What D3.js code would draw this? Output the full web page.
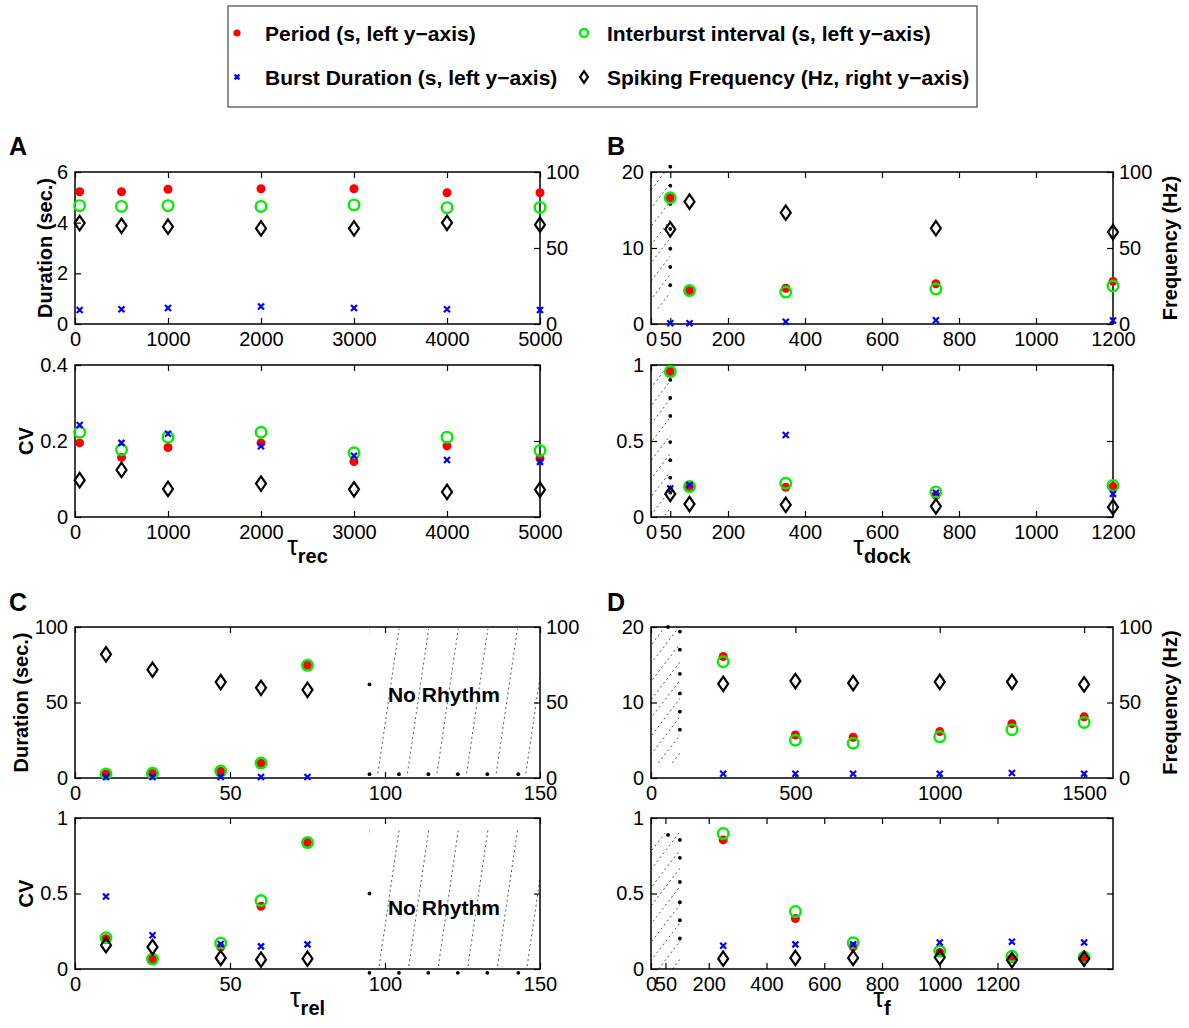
<!DOCTYPE html>
<html><head><meta charset="utf-8">
<script src="https://cdn.jsdelivr.net/npm/d3@7"></script>
<style>body{margin:0;background:#fff} svg{display:block} text{font-family:"Liberation Sans",Arial,sans-serif;fill:#000}</style>
</head><body><svg id="c" width="1189" height="1028"></svg>
<script>
// ---------------- data ----------------
const legendLabels = ["Period (s, left y\u2212axis)", "Interburst interval (s, left y\u2212axis)",
                      "Burst Duration (s, left y\u2212axis)", "Spiking Frequency (Hz, right y\u2212axis)"];
const panelLetters = ["A", "B", "C", "D"];

// Panel A : tau_rec
const aX        = [50, 500, 1000, 2000, 3000, 4000, 5000];
const aPeriod   = [5.22, 5.22, 5.32, 5.34, 5.34, 5.18, 5.18];
const aIBI      = [4.67, 4.64, 4.67, 4.64, 4.70, 4.59, 4.60];
const aBurst    = [0.55, 0.58, 0.63, 0.69, 0.63, 0.58, 0.55];
const aFreq     = [66.4, 64.6, 64.0, 62.9, 62.9, 66.6, 65.3];
const aPeriodCV = [0.195, 0.157, 0.183, 0.195, 0.146, 0.187, 0.154];
const aIBICV    = [0.223, 0.177, 0.210, 0.223, 0.169, 0.210, 0.175];
const aBurstCV  = [0.242, 0.195, 0.219, 0.186, 0.161, 0.150, 0.145];
const aFreqCV   = [0.097, 0.124, 0.074, 0.088, 0.073, 0.066, 0.072];

// Panel B : tau_dock
const bX        = [50, 100, 350, 740, 1200];
const bPeriod   = [16.6, 4.4, 4.7, 5.3, 5.6];
const bIBI      = [16.6, 4.4, 4.2, 4.6, 5.0];
const bBurst    = [0.1, 0.1, 0.3, 0.5, 0.45];
const bFreq     = [62.3, 80.5, 73.2, 63.0, 60.5];
const bPeriodCV = [0.957, 0.200, 0.196, 0.143, 0.200];
const bIBICV    = [0.957, 0.200, 0.222, 0.165, 0.207];
const bBurstCV  = [0.187, 0.210, 0.540, 0.160, 0.152];
const bFreqCV   = [0.152, 0.085, 0.080, 0.070, 0.065];

// Panel C : tau_rel
const cX        = [10, 25, 47, 60, 75];
const cPeriod   = [2.7, 3.1, 4.4, 9.7, 74.6];
const cIBI      = [2.7, 3.1, 4.6, 9.9, 74.6];
const cBurst    = [0.6, 0.6, 0.6, 0.6, 0.6];
const cFreq     = [81.9, 71.7, 63.5, 59.7, 58.4];
const cPeriodCV = [0.200, 0.066, 0.145, 0.415, 0.837];
const cIBICV    = [0.207, 0.066, 0.171, 0.453, 0.837];
const cBurstCV  = [0.480, 0.224, 0.165, 0.150, 0.163];
const cFreqCV   = [0.158, 0.145, 0.073, 0.062, 0.068];

// Panel D : tau_f
const dX        = [250, 500, 700, 1000, 1250, 1500];
const dPeriod   = [16.1, 5.7, 5.4, 6.15, 7.2, 8.1];
const dIBI      = [15.4, 5.0, 4.6, 5.45, 6.4, 7.35];
const dBurst    = [0.57, 0.57, 0.57, 0.57, 0.65, 0.57];
const dFreq     = [62.4, 64.2, 62.9, 63.7, 63.7, 62.0];
const dPeriodCV = [0.855, 0.334, 0.147, 0.110, 0.070, 0.070];
const dIBICV    = [0.897, 0.380, 0.174, 0.119, 0.084, 0.077];
const dBurstCV  = [0.154, 0.163, 0.163, 0.176, 0.180, 0.176];
const dFreqCV   = [0.068, 0.073, 0.073, 0.077, 0.059, 0.068];

// ticks
const aXTicks = [0, 1000, 2000, 3000, 4000, 5000];
const bXTicks = [0, 50, 200, 400, 600, 800, 1000, 1200];
const cXTicks = [0, 50, 100, 150];
const dXTicksTop = [0, 500, 1000, 1500];
const dXTicksBot = [0, 50, 200, 400, 600, 800, 1000, 1200];
const aYTicks = [0, 2, 4, 6];
const aCVTicks = [0, 0.2, 0.4];
const bYTicks = [0, 10, 20];
const cYTicks = [0, 50, 100];
const dYTicks = [0, 10, 20];
const cvTicks = [0, 0.5, 1];
const freqTicks = [0, 50, 100];

// hatch-marker dots (no-rhythm regions)
const bDotX = 50,  bTopDots = [20.7, 18.2, 15.8, 12.5, 9.9, 7.5, 5.1];
const bBotDots = [0.902, 0.783, 0.665, 0.493, 0.374, 0.259, 0.16];
const cDotXs = [95, 104.5, 114, 123.5, 133, 143];
const dDotX = 100, dTopDots = [19.4, 17.0, 13.8, 11.2, 8.8, 6.4];
const dBotDots = [0.855, 0.736, 0.576, 0.442, 0.323, 0.202];

// ---------------- drawing ----------------
const svg = d3.select("#c");
const FONT = "Liberation Sans, Arial, sans-serif";
let clipN = 0;

function drawMarker(g, type, px, py, s = 1) {
  if (type === 0) {
    g.append("circle").attr("cx", px).attr("cy", py).attr("r", 4.5 * s).attr("fill", "#ff0000");
  } else if (type === 1) {
    g.append("circle").attr("cx", px).attr("cy", py).attr("r", 5.3 * s)
      .attr("fill", "none").attr("stroke", "#00ee00").attr("stroke-width", 2.4);
  } else if (type === 2) {
    const a = 3 * s;
    g.append("path").attr("d", `M${px - a},${py - a}L${px + a},${py + a}M${px - a},${py + a}L${px + a},${py - a}`)
      .attr("stroke", "#0000ff").attr("stroke-width", 2.2).attr("fill", "none");
  } else {
    const w = 5 * s, h = 7.2 * s;
    g.append("path").attr("d", `M${px},${py - h}L${px + w},${py}L${px},${py + h}L${px - w},${py}Z`)
      .attr("stroke", "#000").attr("stroke-width", 2.2).attr("fill", "none");
  }
}

function hatch(g, x, y, h) {
  const px0 = x(h.xr[0]), px1 = x(h.xr[1]), py0 = y(h.yr[1]), py1 = y(h.yr[0]);
  const id = "clip" + (clipN++);
  g.append("clipPath").attr("id", id).append("rect")
    .attr("x", px0).attr("y", py0).attr("width", px1 - px0).attr("height", py1 - py0);
  const hg = g.append("g").attr("clip-path", `url(#${id})`);
  const H = py1 - py0, shift = H * h.run / h.rise;
  const starts = d3.range(px0 - shift + h.offset, px1 + 1, h.gap);
  hg.selectAll("line").data(starts).join("line")
    .attr("x1", d => d).attr("y1", py1).attr("x2", d => d + shift).attr("y2", py0)
    .attr("stroke", "#555").attr("stroke-width", 1).attr("stroke-dasharray", "2,3");
  g.selectAll(null).data(h.dots).join("circle")
    .attr("cx", d => x(d[0])).attr("cy", d => y(d[1])).attr("r", 1.9).attr("fill", "#000");
}

function panel(c) {
  const g = svg.append("g");
  const x = d3.scaleLinear().domain(c.xDomain).range([c.x0, c.x1]);
  const y = d3.scaleLinear().domain(c.yDomain).range([c.y1, c.y0]);
  const r = c.rDomain ? d3.scaleLinear().domain(c.rDomain).range([c.y1, c.y0]) : null;

  if (c.hatch) hatch(g, x, y, c.hatch);

  // box
  g.append("rect").attr("x", c.x0).attr("y", c.y0).attr("width", c.x1 - c.x0).attr("height", c.y1 - c.y0)
    .attr("fill", "none").attr("stroke", "#000").attr("stroke-width", 1.5);

  const styleAxis = (sel) => {
    sel.select(".domain").remove();
    sel.selectAll(".tick line").attr("stroke", "#000").attr("stroke-width", 1.2);
    sel.selectAll("text").attr("font-family", FONT).attr("font-size", 20).attr("fill", "#000");
  };
  g.append("g").attr("transform", `translate(0,${c.y1})`)
    .call(d3.axisBottom(x).tickValues(c.xTicks).tickFormat(d3.format("d")).tickSize(-6).tickPadding(8)).call(styleAxis);
  g.append("g").attr("transform", `translate(0,${c.y0})`)
    .call(d3.axisTop(x).tickValues(c.xTicks).tickFormat("").tickSize(-6)).call(styleAxis);
  g.append("g").attr("transform", `translate(${c.x0},0)`)
    .call(d3.axisLeft(y).tickValues(c.yTicks).tickFormat(d => String(d)).tickSize(-6).tickPadding(7)).call(styleAxis);
  if (r) {
    g.append("g").attr("transform", `translate(${c.x1},0)`)
      .call(d3.axisRight(r).tickValues(c.rTicks).tickFormat(d => String(d)).tickSize(-6).tickPadding(6)).call(styleAxis);
  } else {
    g.append("g").attr("transform", `translate(${c.x1},0)`)
      .call(d3.axisRight(y).tickValues(c.yTicks).tickFormat("").tickSize(-6)).call(styleAxis);
  }

  // points: period, ibi, burst, then freq
  const sets = [c.period, c.ibi, c.burst];
  sets.forEach((vals, t) => vals.forEach((v, i) => drawMarker(g, t, x(c.xs[i]), y(v))));
  c.freq.forEach((v, i) => drawMarker(g, 3, x(c.xs[i]), (r || y)(v)));

  if (c.noRhythm) {
    g.append("text").attr("x", x(c.noRhythm[0])).attr("y", y(c.noRhythm[1]))
      .attr("text-anchor", "middle").attr("font-family", FONT).attr("font-weight", "bold")
      .attr("font-size", 21).text("No Rhythm");
  }
  if (c.yLabel) {
    g.append("text").attr("transform", `translate(${c.yLabelX},${(c.y0 + c.y1) / 2}) rotate(-90)`)
      .attr("text-anchor", "middle").attr("font-family", FONT).attr("font-weight", "bold")
      .attr("font-size", 20).text(c.yLabel);
  }
  if (c.rLabel) {
    g.append("text").attr("transform", `translate(${c.rLabelX},${(c.y0 + c.y1) / 2}) rotate(-90)`)
      .attr("text-anchor", "middle").attr("font-family", FONT).attr("font-weight", "bold")
      .attr("font-size", 20).text(c.rLabel);
  }
  if (c.xLabel) {
    const t = g.append("text").attr("x", (c.x0 + c.x1) / 2).attr("y", c.y1 + 38)
      .attr("text-anchor", "middle").attr("font-family", FONT);
    t.append("tspan").attr("font-size", 27).text("\u03C4");
    t.append("tspan").attr("font-size", 20).attr("font-weight", "bold").attr("dy", 8).text(c.xLabel);
  }
}

// legend
const lg = svg.append("g");
lg.append("rect").attr("x", 228).attr("y", 6).attr("width", 749).attr("height", 101)
  .attr("fill", "#fff").attr("stroke", "#444").attr("stroke-width", 1.2);
const legPos = [[237, 33, 265], [584, 33, 607], [237, 77, 265], [584, 77, 607]];
legendLabels.forEach((lab, i) => {
  drawMarker(lg, i, legPos[i][0], legPos[i][1], i === 1 ? 0.75 : 0.8);
  lg.append("text").attr("x", legPos[i][2]).attr("y", legPos[i][1] + 7.5)
    .attr("font-family", FONT).attr("font-weight", "bold").attr("font-size", 21).text(lab);
});

// panel letters
const letterPos = [[9, 155], [607, 155], [9, 611], [607, 611]];
panelLetters.forEach((L, i) => {
  svg.append("text").attr("x", letterPos[i][0]).attr("y", letterPos[i][1])
    .attr("font-family", "DejaVu Serif, serif").attr("font-weight", "bold")
    .attr("font-size", 25).text(L);
});

const LX0 = 75, LX1 = 540, RX0 = 651, RX1 = 1113;
const T0 = 172, T1 = 324, U0 = 365, U1 = 517, V0 = 627, V1 = 778, W0 = 818, W1 = 969;

// A
panel({x0: LX0, x1: LX1, y0: T0, y1: T1, xDomain: [0, 5000], xTicks: aXTicks, yDomain: [0, 6], yTicks: aYTicks,
  rDomain: [0, 100], rTicks: freqTicks, xs: aX, period: aPeriod, ibi: aIBI, burst: aBurst, freq: aFreq,
  yLabel: "Duration (sec.)", yLabelX: 52});
panel({x0: LX0, x1: LX1, y0: U0, y1: U1, xDomain: [0, 5000], xTicks: aXTicks, yDomain: [0, 0.4], yTicks: aCVTicks,
  xs: aX, period: aPeriodCV, ibi: aIBICV, burst: aBurstCV, freq: aFreqCV,
  yLabel: "CV", yLabelX: 33, xLabel: "rec"});
// B
panel({x0: RX0, x1: RX1, y0: T0, y1: T1, xDomain: [0, 1200], xTicks: bXTicks, yDomain: [0, 20], yTicks: bYTicks,
  rDomain: [0, 100], rTicks: freqTicks, xs: bX, period: bPeriod, ibi: bIBI, burst: bBurst, freq: bFreq,
  rLabel: "Frequency (Hz)", rLabelX: 1177,
  hatch: {xr: [0, 50], yr: [2, 20], run: 1, rise: 1.3, gap: 14, offset: 0, dots: bTopDots.map(v => [bDotX, v])}});
panel({x0: RX0, x1: RX1, y0: U0, y1: U1, xDomain: [0, 1200], xTicks: bXTicks, yDomain: [0, 1], yTicks: cvTicks,
  xs: bX, period: bPeriodCV, ibi: bIBICV, burst: bBurstCV, freq: bFreqCV, xLabel: "dock",
  hatch: {xr: [0, 50], yr: [0.01, 0.97], run: 1, rise: 1.3, gap: 14, offset: 0, dots: bBotDots.map(v => [bDotX, v])}});
// C
panel({x0: LX0, x1: LX1, y0: V0, y1: V1, xDomain: [0, 150], xTicks: cXTicks, yDomain: [0, 100], yTicks: cYTicks,
  rDomain: [0, 100], rTicks: freqTicks, xs: cX, period: cPeriod, ibi: cIBI, burst: cBurst, freq: cFreq,
  yLabel: "Duration (sec.)", yLabelX: 28, noRhythm: [119, 50.5],
  hatch: {xr: [95, 150], yr: [3, 99], run: 22, rise: 150, gap: 29.6, offset: 0,
          dots: cDotXs.map(v => [v, 2.5]).concat([[95, 62]])}});
panel({x0: LX0, x1: LX1, y0: W0, y1: W1, xDomain: [0, 150], xTicks: cXTicks, yDomain: [0, 1], yTicks: cvTicks,
  xs: cX, period: cPeriodCV, ibi: cIBICV, burst: cBurstCV, freq: cFreqCV,
  yLabel: "CV", yLabelX: 33, xLabel: "rel", noRhythm: [119, 0.36],
  hatch: {xr: [95, 150], yr: [0.02, 0.92], run: 22, rise: 150, gap: 29.6, offset: 0,
          dots: cDotXs.map(v => [v, -0.025]).concat([[95, 0.5]])}});
// D
panel({x0: RX0, x1: RX1, y0: V0, y1: V1, xDomain: [0, 1600], xTicks: dXTicksTop, yDomain: [0, 20], yTicks: dYTicks,
  rDomain: [0, 100], rTicks: freqTicks, xs: dX, period: dPeriod, ibi: dIBI, burst: dBurst, freq: dFreq,
  rLabel: "Frequency (Hz)", rLabelX: 1177,
  hatch: {xr: [0, 100], yr: [2, 20], run: 1, rise: 1.3, gap: 14, offset: 0,
          dots: dTopDots.map(v => [dDotX, v]).concat([[59, 20]])}});
panel({x0: RX0, x1: RX1, y0: W0, y1: W1, xDomain: [0, 1600], xTicks: dXTicksBot, yDomain: [0, 1], yTicks: cvTicks,
  xs: dX, period: dPeriodCV, ibi: dIBICV, burst: dBurstCV, freq: dFreqCV, xLabel: "f",
  hatch: {xr: [0, 100], yr: [0, 0.9], run: 1, rise: 1.3, gap: 14, offset: 0,
          dots: dBotDots.map(v => [dDotX, v]).concat([[59, 0.888]])}});
</script></body></html>
